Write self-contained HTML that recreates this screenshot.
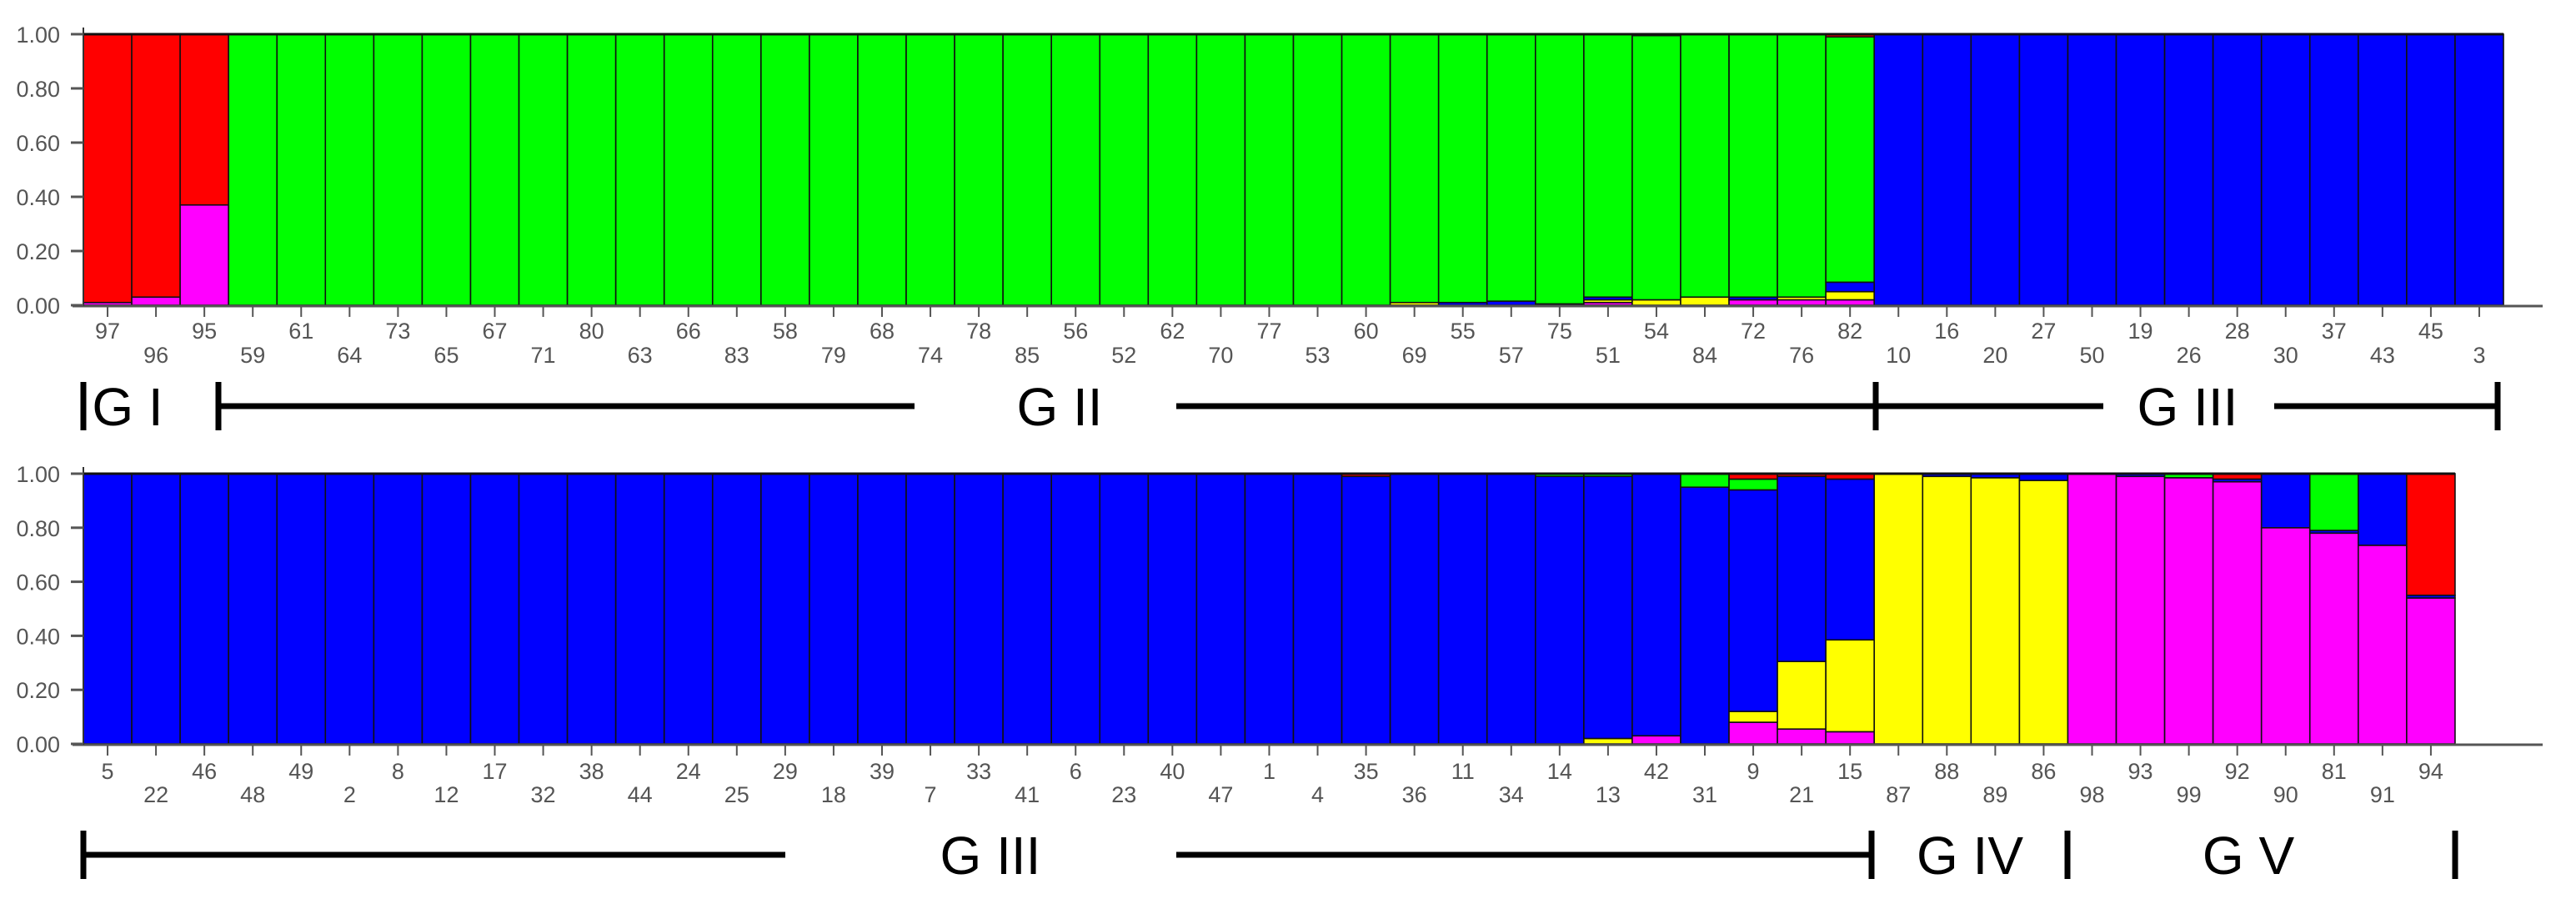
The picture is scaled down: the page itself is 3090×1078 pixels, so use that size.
<!DOCTYPE html>
<html><head><meta charset="utf-8">
<style>
html,body{margin:0;padding:0;background:#fff;}
svg{display:block;}
text{font-family:"Liberation Sans",sans-serif;}
.tick{font-size:27px;fill:#555;}
.grp{font-size:64px;fill:#000;}
</style></head>
<body>
<svg id="chart" width="3090" height="1078" viewBox="0 0 3090 1078" xmlns="http://www.w3.org/2000/svg">
<g id="top"></g>
<g id="bottom"></g>
<g id="groups"></g>
</svg>
<script>
// cluster stacking order bottom→top: magenta, yellow, blue, green, red
const clusterColors = ["#ff00ff","#ffff00","#0000ff","#00ff00","#ff0000"];
const clusterNames = ["magenta","yellow","blue","green","red"];
const yTicks = [0,0.2,0.4,0.6,0.8,1.0];
const yTickLabels = ["0.00","0.20","0.40","0.60","0.80","1.00"];

const topLabels = ["97","96","95","59","61","64","73","65","67","71","80","63","66","83","58","79","68","74","78","85","56","52","62","70","77","53","60","69","55","57","75","51","54","84","72","76","82","10","16","20","27","50","19","26","28","30","37","43","45","3"];
const topMagenta = [0.01,0.03,0.37,0,0,0,0,0,0,0,0,0,0,0,0,0,0,0,0,0,0,0,0,0,0,0,0,0,0,0,0,0.01,0,0,0.02,0.02,0.02,0,0,0,0,0,0,0,0,0,0,0,0,0];
const topYellow  = [0,0,0,0,0,0,0,0,0,0,0,0,0,0,0,0,0,0,0,0,0,0,0,0,0,0,0,0.01,0,0,0,0.01,0.02,0.03,0,0.01,0.03,0,0,0,0,0,0,0,0,0,0,0,0,0];
const topBlue    = [0,0,0,0,0,0,0,0,0,0,0,0,0,0,0,0,0,0,0,0,0,0,0,0,0,0,0,0,0.01,0.015,0.005,0.01,0,0,0.01,0,0.035,1,1,1,1,1,1,1,1,1,1,1,1,1];
const topGreen   = [0,0,0,1,1,1,1,1,1,1,1,1,1,1,1,1,1,1,1,1,1,1,1,1,1,1,1,0.99,0.99,0.985,0.995,0.97,0.975,0.97,0.97,0.97,0.905,0,0,0,0,0,0,0,0,0,0,0,0,0];
const topRed     = [0.99,0.97,0.63,0,0,0,0,0,0,0,0,0,0,0,0,0,0,0,0,0,0,0,0,0,0,0,0,0,0,0,0,0,0.005,0,0,0,0.01,0,0,0,0,0,0,0,0,0,0,0,0,0];

const botLabels = ["5","22","46","48","49","2","8","12","17","32","38","44","24","25","29","18","39","7","33","41","6","23","40","47","1","4","35","36","11","34","14","13","42","31","9","21","15","87","88","89","86","98","93","99","92","90","81","91","94"];
const botMagenta = [0,0,0,0,0,0,0,0,0,0,0,0,0,0,0,0,0,0,0,0,0,0,0,0,0,0,0,0,0,0,0,0,0.03,0,0.08,0.055,0.045,0,0,0,0,1,0.99,0.985,0.97,0.80,0.78,0.735,0.54];
const botYellow  = [0,0,0,0,0,0,0,0,0,0,0,0,0,0,0,0,0,0,0,0,0,0,0,0,0,0,0,0,0,0,0,0.02,0,0,0.04,0.25,0.34,1,0.99,0.985,0.975,0,0,0,0,0,0,0,0];
const botBlue    = [1,1,1,1,1,1,1,1,1,1,1,1,1,1,1,1,1,1,1,1,1,1,1,1,1,1,0.99,1,1,1,0.99,0.97,0.97,0.95,0.82,0.685,0.595,0,0.01,0.015,0.025,0,0.01,0,0.01,0.20,0.01,0.265,0.01];
const botGreen   = [0,0,0,0,0,0,0,0,0,0,0,0,0,0,0,0,0,0,0,0,0,0,0,0,0,0,0,0,0,0,0.01,0.01,0,0.05,0.04,0,0,0,0,0,0,0,0,0.015,0,0,0.21,0,0];
const botRed     = [0,0,0,0,0,0,0,0,0,0,0,0,0,0,0,0,0,0,0,0,0,0,0,0,0,0,0.01,0,0,0,0,0,0,0,0.02,0.01,0.02,0,0,0,0,0,0,0,0.02,0,0,0,0.45];

const groupTop = [
  {label:"G I", cx:153},
  {label:"G II", cx:1271},
  {label:"G III", cx:2624}
];
const groupBot = [
  {label:"G III", cx:1188},
  {label:"G IV", cx:2363},
  {label:"G V", cx:2697}
];

const NS = "http://www.w3.org/2000/svg";
function mk(tag, attrs, parent){
  const e = document.createElementNS(NS, tag);
  for (const k in attrs) e.setAttribute(k, attrs[k]);
  parent.appendChild(e);
  return e;
}

function drawPanel(g, labels, series, y0, y1, lab1, lab2, prefix){
  const x0 = 100, bw = 58.06;
  const xs = i => x0 + i*bw;
  const ys = v => y0 - v*(y0-y1);
  const n = labels.length;
  const xEnd = xs(n);
  // bars
  for (let i=0;i<n;i++){
    let cum = 0;
    for (let c=0;c<series.length;c++){
      const v = series[c][i];
      if (v<=0) continue;
      const r = mk("rect",{x:xs(i),y:ys(cum+v),width:bw,height:ys(cum)-ys(cum+v),fill:clusterColors[c],stroke:"#111","stroke-width":1.6},g);
      
      
      cum += v;
    }
  }
  // top border
  const tb = mk("line",{x1:x0,y1:ys(1),x2:xEnd,y2:ys(1),stroke:"#111","stroke-width":3},g);
  
  
  // x axis
  const xa = mk("line",{x1:87,y1:y0+1,x2:3050,y2:y0+1,stroke:"#555","stroke-width":3},g);
  
  
  const ya = mk("line",{x1:x0,y1:ys(1)-8,x2:x0,y2:y0+1,stroke:"#333","stroke-width":2},g);
  
  
  // y ticks
  for (let k=0;k<yTicks.length;k++){
    const t = mk("line",{x1:85,y1:ys(yTicks[k]),x2:100,y2:ys(yTicks[k]),stroke:"#555","stroke-width":3},g);
    
    
    const tx = mk("text",{x:72,y:ys(yTicks[k])+10,"text-anchor":"end",class:"tick"},g);
    tx.textContent = yTickLabels[k];
    
    
  }
  // x ticks + labels
  for (let i=0;i<n;i++){
    const cx = xs(i)+bw/2;
    const t = mk("line",{x1:cx,y1:y0+2,x2:cx,y2:y0+14,stroke:"#555","stroke-width":2},g);
    
    
    const tx = mk("text",{x:cx,y:(i%2===0?lab1:lab2)+10,"text-anchor":"middle",class:"tick"},g);
    tx.textContent = labels[i];
    
    
  }
}

drawPanel(document.getElementById("top"), topLabels,
  [topMagenta,topYellow,topBlue,topGreen,topRed], 366, 41, 396, 425, "top");
drawPanel(document.getElementById("bottom"), botLabels,
  [botMagenta,botYellow,botBlue,botGreen,botRed], 892, 568, 924, 952, "bottom");

// group annotations
const G = document.getElementById("groups");
function bar(x, yc){
  const l = mk("line",{x1:x,y1:yc-29,x2:x,y2:yc+29,stroke:"#000","stroke-width":7},G);
  
  
}
function hline(xa, xb, yc){
  const l = mk("line",{x1:xa,y1:yc,x2:xb,y2:yc,stroke:"#000","stroke-width":7},G);
  
  
}
function glabel(g, yc){
  const t = mk("text",{x:g.cx,y:yc+23,"text-anchor":"middle",class:"grp"},G);
  t.textContent = g.label;
  
  
}
// top row
bar(100,487); bar(262,487); hline(262,1097,487);
hline(1411,2250,487); bar(2250,487); hline(2250,2523,487);
hline(2728,2996,487); bar(2996,487);
groupTop.forEach(g=>glabel(g,487));
// bottom row
bar(100,1025); hline(100,942,1025);
hline(1411,2245,1025); bar(2245,1025);
bar(2480,1025); bar(2945,1025);
groupBot.forEach(g=>glabel(g,1025));
</script>
</body></html>
